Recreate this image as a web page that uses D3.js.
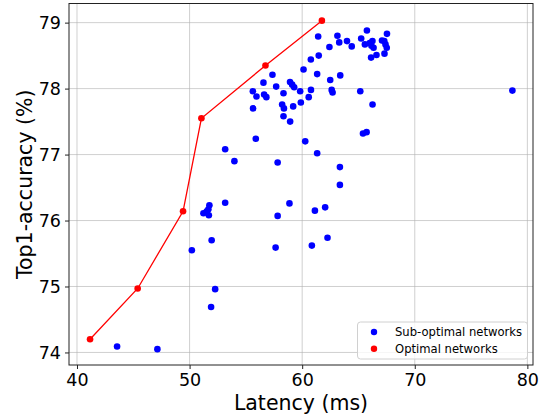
<!DOCTYPE html>
<html>
<head>
<meta charset="utf-8">
<script src="https://cdn.jsdelivr.net/npm/d3@7"></script>
<style>
  html, body { margin: 0; padding: 0; background: #fff; }
  svg { display: block; font-family: "DejaVu Sans", sans-serif; }
</style>
</head>
<body>
<svg id="chart" width="542" height="417"></svg>
<script>
// Sub-optimal networks: latency (ms)
const subLatency = [43.56, 47.14, 50.20, 51.96, 52.27, 51.91, 51.23, 51.53, 51.67, 51.76,
  51.71, 53.16, 53.16, 53.98, 55.88, 55.62, 55.94, 55.64, 56.56, 56.62,
  56.82, 57.36, 57.69, 58.34, 58.92, 59.11, 59.29, 59.82, 60.78, 60.58,
  59.88, 59.20, 58.22, 58.38, 58.34, 58.93, 57.82, 60.27, 61.33, 63.35,
  63.35, 58.87, 62.04, 61.13, 57.82, 62.25, 57.64, 60.86, 65.40, 65.72,
  66.25, 65.16, 78.67, 62.70, 62.62, 62.49, 63.38, 61.33, 60.12, 60.77,
  61.47, 62.42, 61.42, 63.13, 63.29, 63.98, 64.40, 65.24, 65.75, 65.57,
  66.00, 66.24, 66.15, 66.34, 66.12, 66.60, 67.09, 67.29, 67.53, 67.40,
  67.51, 67.31];
// Sub-optimal networks: top1 accuracy (%)
const subAccuracy = [74.09, 74.05, 75.55, 75.70, 74.96, 74.69, 76.11, 76.14, 76.17, 76.23,
  76.08, 76.27, 77.08, 76.90, 77.24, 77.96, 77.88, 77.70, 78.09, 77.91,
  77.87, 78.21, 78.03, 77.93, 78.10, 78.06, 78.02, 77.96, 77.98, 77.87,
  77.79, 77.73, 77.76, 77.70, 77.58, 77.50, 76.88, 77.20, 77.02, 76.81,
  76.54, 76.26, 76.20, 76.15, 76.07, 75.74, 75.59, 75.62, 77.32, 77.34,
  77.76, 77.96, 77.97, 77.94, 77.98, 78.13, 78.20, 78.22, 78.29, 78.44,
  78.50, 78.63, 78.79, 78.80, 78.70, 78.72, 78.64, 78.76, 78.88, 78.67,
  78.69, 78.72, 78.65, 78.62, 78.47, 78.51, 78.73, 78.72, 78.83, 78.67,
  78.62, 78.53];
// Optimal networks (Pareto front)
const optLatency = [41.16, 45.39, 49.42, 51.05, 56.74, 61.75];
const optAccuracy = [74.20, 74.97, 76.14, 77.55, 78.35, 79.03];

const xTicks = [40, 50, 60, 70, 80];
const yTicks = [74, 75, 76, 77, 78, 79];
const seriesNames = ["Sub-optimal networks", "Optimal networks"];
const seriesColors = ["#0000ff", "#ff0000"];

const svg = d3.select("#chart");
const plot = { left: 69, right: 533, top: 3.5, bottom: 365 };

const x = d3.scaleLinear().domain([39.29, 80.5]).range([plot.left, plot.right]);
const y = d3.scaleLinear().domain([73.81, 79.29]).range([plot.bottom, plot.top]);

// grid
const grid = svg.append("g");
grid.selectAll("line.vx").data(xTicks).enter().append("line")
  .attr("x1", d => x(d)).attr("x2", d => x(d))
  .attr("y1", plot.top).attr("y2", plot.bottom)
  .attr("stroke", "#b0b0b0").attr("stroke-opacity", 0.6).attr("stroke-width", 1);
grid.selectAll("line.hy").data(yTicks).enter().append("line")
  .attr("y1", d => y(d)).attr("y2", d => y(d))
  .attr("x1", plot.left).attr("x2", plot.right)
  .attr("stroke", "#b0b0b0").attr("stroke-opacity", 0.6).attr("stroke-width", 1);

// axes
const xAxis = d3.axisBottom(x).tickValues(xTicks).tickSize(4).tickPadding(5).tickFormat(d3.format("d"));
const yAxis = d3.axisLeft(y).tickValues(yTicks).tickSize(4).tickPadding(4).tickFormat(d3.format("d"));

const gx = svg.append("g").attr("transform", `translate(0,${plot.bottom})`).call(xAxis);
const gy = svg.append("g").attr("transform", `translate(${plot.left},0)`).call(yAxis);
[gx, gy].forEach(g => {
  g.select(".domain").remove();
  g.selectAll(".tick line").attr("stroke", "#222").attr("stroke-width", 1);
  g.selectAll(".tick text").attr("fill", "#000").style("font-size", "17.5px")
    .style("font-family", "DejaVu Sans, sans-serif");
});

// frame
svg.append("rect")
  .attr("x", plot.left).attr("y", plot.top)
  .attr("width", plot.right - plot.left).attr("height", plot.bottom - plot.top)
  .attr("fill", "none").attr("stroke", "#222").attr("stroke-width", 1);

// points: sub-optimal
const subData = subLatency.map((v, i) => ({ lat: v, acc: subAccuracy[i] }));
svg.append("g").selectAll("circle").data(subData).enter().append("circle")
  .attr("cx", d => x(d.lat)).attr("cy", d => y(d.acc)).attr("r", 3.3)
  .attr("fill", seriesColors[0]);

// optimal line + points
const optData = optLatency.map((v, i) => ({ lat: v, acc: optAccuracy[i] }));
svg.append("path").datum(optData)
  .attr("d", d3.line().x(d => x(d.lat)).y(d => y(d.acc)))
  .attr("fill", "none").attr("stroke", seriesColors[1]).attr("stroke-width", 1.3);
svg.append("g").selectAll("circle").data(optData).enter().append("circle")
  .attr("cx", d => x(d.lat)).attr("cy", d => y(d.acc)).attr("r", 3.3)
  .attr("fill", seriesColors[1]);

// axis labels
svg.append("text").attr("x", (plot.left + plot.right) / 2).attr("y", 410)
  .attr("text-anchor", "middle").style("font-size", "20.5px").text("Latency (ms)");
svg.append("text")
  .attr("transform", `translate(32,${(plot.top + plot.bottom) / 2}) rotate(-90)`)
  .attr("text-anchor", "middle").style("font-size", "20.5px").text("Top1-accuracy (%)");

// legend
const lg = svg.append("g");
lg.append("rect").attr("x", 357.5).attr("y", 322).attr("width", 170).attr("height", 37)
  .attr("rx", 3).attr("fill", "#fff").attr("fill-opacity", 0.8)
  .attr("stroke", "#d0d0d0").attr("stroke-width", 1);
seriesNames.forEach((name, i) => {
  const cy = 332 + i * 16.7;
  lg.append("circle").attr("cx", 374).attr("cy", cy).attr("r", 3.2).attr("fill", seriesColors[i]);
  lg.append("text").attr("x", 395).attr("y", cy + 4).style("font-size", "11.6px")
    .attr("fill", "#000").text(name);
});
</script>
</body>
</html>
